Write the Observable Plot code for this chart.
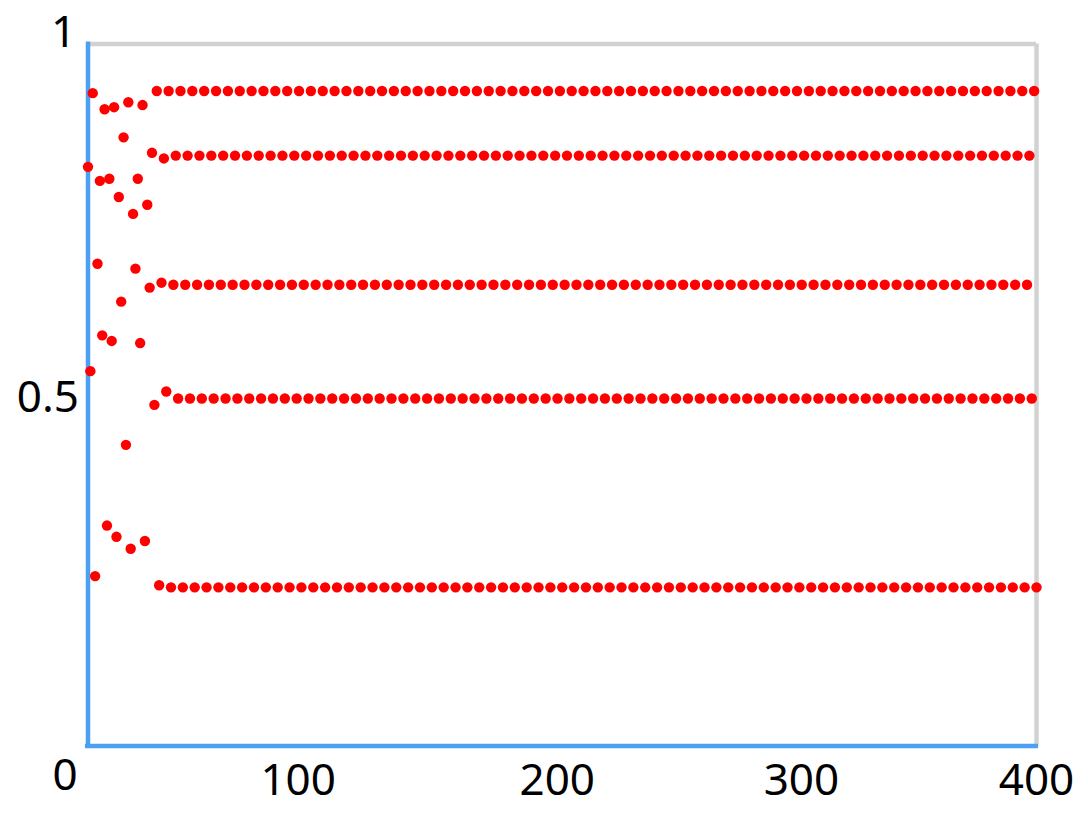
<!DOCTYPE html>
<html><head><meta charset="utf-8">
<script src="https://cdn.jsdelivr.net/npm/d3@7"></script>
<script src="https://cdn.jsdelivr.net/npm/@observablehq/plot@0.6"></script>
<style>html,body{margin:0;padding:0;background:#fff}</style>
</head><body><div id="chart"></div>
<script>
// transient iterations n = 0..33
const transientValues = [
  0.825, 0.534, 0.930, 0.242, 0.687, 0.805, 0.585, 0.907, 0.314, 0.808,
  0.577, 0.910, 0.298, 0.782, 0.633, 0.867, 0.429, 0.917, 0.281, 0.758,
  0.680, 0.808, 0.574, 0.913, 0.292, 0.771, 0.653, 0.845, 0.486, 0.933,
  0.229, 0.660, 0.837, 0.505
];
// steady rows, indexed by iteration n mod 5
const plateauLevels = [0.226, 0.657, 0.841, 0.495, 0.933];
const lastIteration = 400;
const xTickValues = [100, 200, 300, 400];
const xTickLabels = ["100", "200", "300", "400"];
const yTickValues = [0, 0.5, 1];
const yTickLabels = ["0", "0.5", "1"];

const points = [];
for (let n = 0; n <= lastIteration; n++) {
  const v = n < transientValues.length ? transientValues[n] : plateauLevels[n % 5];
  points.push({n, v});
}

const blue = "#4d9ff2";
const grey = "#d2d2d2";
const font = "Noto Sans, Open Sans, sans-serif";
const fs = 44;
const xLabelDx = [-27, -5, 2, 0];

const marks = [
  Plot.ruleY([1], {stroke: grey, strokeWidth: 4.5}),
  Plot.ruleX([400], {stroke: grey, strokeWidth: 4.5}),
  Plot.ruleX([0], {stroke: blue, strokeWidth: 4.5, y1: 1, y2: 0, insetBottom: -2.5, insetTop: -2}),
  Plot.ruleY([0], {stroke: blue, strokeWidth: 4.5, x1: 0, x2: 400, insetLeft: -2.5, insetRight: -2}),
  Plot.dot(points, {x: "n", y: "v", r: 5.2, fill: "#ff0000", stroke: "none"})
];
xTickValues.forEach((t, i) => {
  marks.push(Plot.text([t], {x: d => d, y: () => 0, text: () => xTickLabels[i],
    dx: xLabelDx[i], dy: 35, fontSize: fs, fontFamily: font, fill: "#000"}));
});
// y labels: 0 below the corner, 0.5 left of axis, 1 above the corner
marks.push(Plot.text([yTickValues[0]], {x: () => 0, y: d => d, text: () => yTickLabels[0],
  dx: -23, dy: 30, fontSize: fs, fontFamily: font, fill: "#000"}));
marks.push(Plot.text([yTickValues[1]], {x: () => 0, y: d => d, text: () => yTickLabels[1],
  dx: -9, dy: 3, textAnchor: "end", fontSize: fs, fontFamily: font, fill: "#000"}));
marks.push(Plot.text([yTickValues[2]], {x: () => 0, y: d => d, text: () => yTickLabels[2],
  dx: -24.5, dy: -11, fontSize: fs, fontFamily: font, fill: "#000"}));

const chart = Plot.plot({
  width: 1088,
  height: 814,
  marginLeft: 87.5,
  marginRight: 52,
  marginTop: 43.5,
  marginBottom: 68.5,
  x: {domain: [0, 400], axis: null},
  y: {domain: [0, 1], axis: null},
  style: {background: "#fff", overflow: "visible"},
  marks
});
document.getElementById("chart").appendChild(chart);
</script>
</body></html>
